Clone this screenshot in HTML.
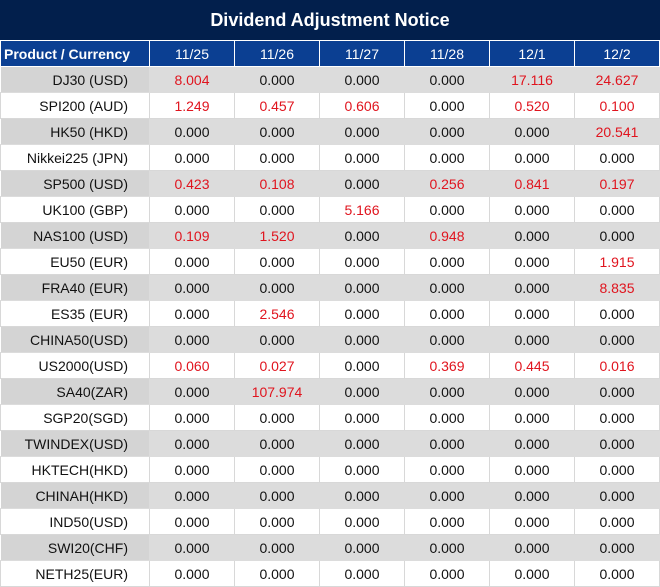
<!DOCTYPE html><html><head><style>
body{margin:0;width:660px;height:587px;overflow:hidden;background:#fff;font-family:"Liberation Sans",sans-serif}
.t{position:absolute;left:0;top:0;width:660px;height:40px;background:#021f4c;color:#fff;font-weight:bold;font-size:18px;text-align:center;line-height:40px}
table{position:absolute;left:0;top:40px;border-collapse:collapse;table-layout:fixed;width:659px}
td,th{height:25px;padding:0;font-size:14px;text-align:center;border:1px solid #d8d8d8;color:#111}
th{background:#0b3f92;color:#fff;font-weight:normal;border:1px solid #fff;border-top:1px solid #fff}
th.p{text-align:left;font-weight:bold;padding-left:3px}
td.p{text-align:right;padding-right:21px}
tr.g td{background:#dcdcdc;border-color:#dcdcdc;border-left:1px solid #fff}
tr.g td.p{background:#d4d4d4}
.r{color:#e0141e}
</style></head><body>
<div class="t">Dividend Adjustment Notice</div>
<table>
<colgroup><col style="width:149px"><col style="width:85px"><col style="width:85px"><col style="width:85px"><col style="width:85px"><col style="width:85px"><col style="width:85px"></colgroup>
<tr><th class="p">Product / Currency</th><th>11/25</th><th>11/26</th><th>11/27</th><th>11/28</th><th>12/1</th><th>12/2</th></tr>
<tr class="g"><td class="p">DJ30 (USD)</td><td class="r">8.004</td><td>0.000</td><td>0.000</td><td>0.000</td><td class="r">17.116</td><td class="r">24.627</td></tr>
<tr><td class="p">SPI200 (AUD)</td><td class="r">1.249</td><td class="r">0.457</td><td class="r">0.606</td><td>0.000</td><td class="r">0.520</td><td class="r">0.100</td></tr>
<tr class="g"><td class="p">HK50 (HKD)</td><td>0.000</td><td>0.000</td><td>0.000</td><td>0.000</td><td>0.000</td><td class="r">20.541</td></tr>
<tr><td class="p">Nikkei225 (JPN)</td><td>0.000</td><td>0.000</td><td>0.000</td><td>0.000</td><td>0.000</td><td>0.000</td></tr>
<tr class="g"><td class="p">SP500 (USD)</td><td class="r">0.423</td><td class="r">0.108</td><td>0.000</td><td class="r">0.256</td><td class="r">0.841</td><td class="r">0.197</td></tr>
<tr><td class="p">UK100 (GBP)</td><td>0.000</td><td>0.000</td><td class="r">5.166</td><td>0.000</td><td>0.000</td><td>0.000</td></tr>
<tr class="g"><td class="p">NAS100 (USD)</td><td class="r">0.109</td><td class="r">1.520</td><td>0.000</td><td class="r">0.948</td><td>0.000</td><td>0.000</td></tr>
<tr><td class="p">EU50 (EUR)</td><td>0.000</td><td>0.000</td><td>0.000</td><td>0.000</td><td>0.000</td><td class="r">1.915</td></tr>
<tr class="g"><td class="p">FRA40 (EUR)</td><td>0.000</td><td>0.000</td><td>0.000</td><td>0.000</td><td>0.000</td><td class="r">8.835</td></tr>
<tr><td class="p">ES35 (EUR)</td><td>0.000</td><td class="r">2.546</td><td>0.000</td><td>0.000</td><td>0.000</td><td>0.000</td></tr>
<tr class="g"><td class="p">CHINA50(USD)</td><td>0.000</td><td>0.000</td><td>0.000</td><td>0.000</td><td>0.000</td><td>0.000</td></tr>
<tr><td class="p">US2000(USD)</td><td class="r">0.060</td><td class="r">0.027</td><td>0.000</td><td class="r">0.369</td><td class="r">0.445</td><td class="r">0.016</td></tr>
<tr class="g"><td class="p">SA40(ZAR)</td><td>0.000</td><td class="r">107.974</td><td>0.000</td><td>0.000</td><td>0.000</td><td>0.000</td></tr>
<tr><td class="p">SGP20(SGD)</td><td>0.000</td><td>0.000</td><td>0.000</td><td>0.000</td><td>0.000</td><td>0.000</td></tr>
<tr class="g"><td class="p">TWINDEX(USD)</td><td>0.000</td><td>0.000</td><td>0.000</td><td>0.000</td><td>0.000</td><td>0.000</td></tr>
<tr><td class="p">HKTECH(HKD)</td><td>0.000</td><td>0.000</td><td>0.000</td><td>0.000</td><td>0.000</td><td>0.000</td></tr>
<tr class="g"><td class="p">CHINAH(HKD)</td><td>0.000</td><td>0.000</td><td>0.000</td><td>0.000</td><td>0.000</td><td>0.000</td></tr>
<tr><td class="p">IND50(USD)</td><td>0.000</td><td>0.000</td><td>0.000</td><td>0.000</td><td>0.000</td><td>0.000</td></tr>
<tr class="g"><td class="p">SWI20(CHF)</td><td>0.000</td><td>0.000</td><td>0.000</td><td>0.000</td><td>0.000</td><td>0.000</td></tr>
<tr><td class="p">NETH25(EUR)</td><td>0.000</td><td>0.000</td><td>0.000</td><td>0.000</td><td>0.000</td><td>0.000</td></tr>
</table>
</body></html>
